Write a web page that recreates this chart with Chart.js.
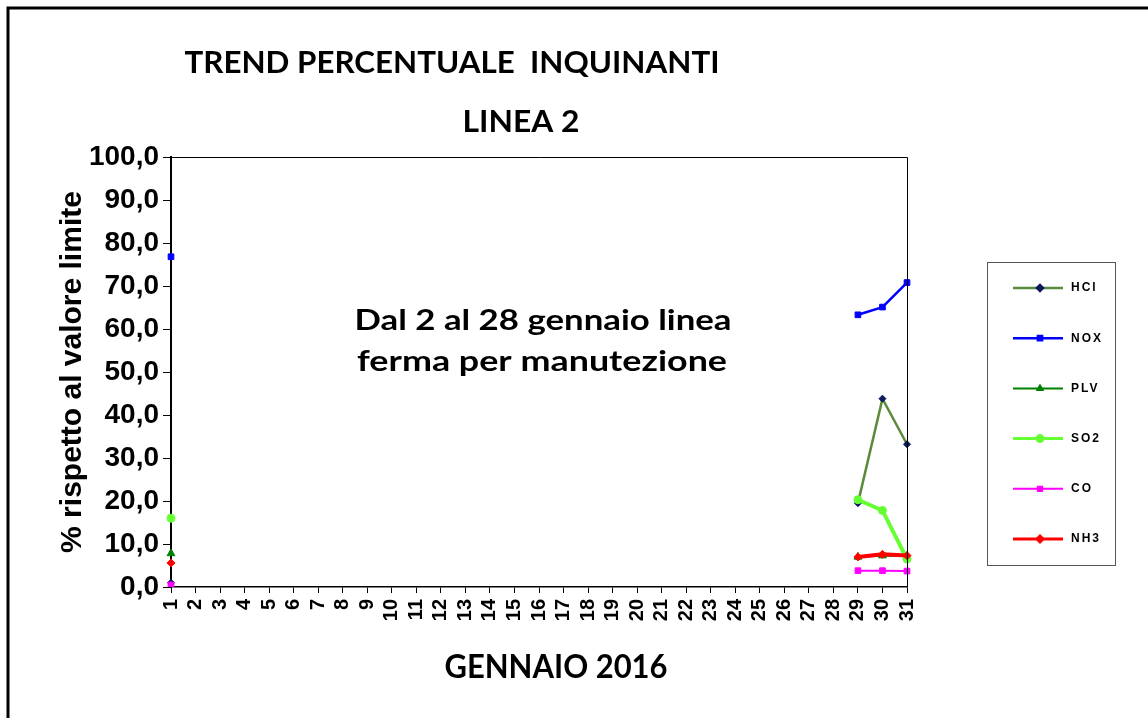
<!DOCTYPE html>
<html>
<head>
<meta charset="utf-8">
<script src="https://cdn.jsdelivr.net/npm/chart.js@4.4.1/dist/chart.umd.min.js"></script>
<style>
  html, body { margin: 0; padding: 0; background: #fff; }
  canvas { display: block; }
</style>
</head>
<body>
<canvas id="chart" width="1148" height="718"></canvas>
<script>
// giorni di gennaio
var days = ['1','2','3','4','5','6','7','8','9','10','11','12','13','14','15','16',
            '17','18','19','20','21','22','23','24','25','26','27','28','29','30','31'];
var yTicks = [0, 10, 20, 30, 40, 50, 60, 70, 80, 90, 100];

// dal 2 al 28 linea ferma -> nessun dato
var stop = new Array(27).fill(null);

var hcl = [1.0].concat(stop, [19.5, 43.8, 33.2]);
var nox = [76.8].concat(stop, [63.3, 65.1, 70.8]);
var plv = [7.8].concat(stop, [7.0, 7.3, 7.2]);
var so2 = [16.0].concat(stop, [20.3, 17.8, 6.5]);
var co  = [0.5].concat(stop, [3.8, 3.8, 3.7]);
var nh3 = [5.6].concat(stop, [7.0, 7.6, 7.3]);

var names = ['HCl', 'NOX', 'PLV', 'SO2', 'CO', 'NH3'];

function fitText(ctx, text, cx, base, w, size) {
    ctx.save();
    ctx.font = 'bold ' + size + 'px Lato';
    var m = ctx.measureText(text).width;
    ctx.translate(cx, base);
    ctx.scale(w / m, 1);
    ctx.textAlign = 'center';
    ctx.textBaseline = 'alphabetic';
    ctx.fillStyle = '#000';
    ctx.fillText(text, 0, 0);
    ctx.restore();
}

var decor = {
    id: 'decor',
    beforeDraw: function (chart) {
        var ctx = chart.ctx;
        ctx.save();
        ctx.fillStyle = '#fff';
        ctx.fillRect(0, 0, chart.width, chart.height);
        ctx.restore();
    },
    afterDraw: function (chart) {
        var ctx = chart.ctx, a = chart.chartArea;
        ctx.save();
        // cornice esterna
        ctx.strokeStyle = '#000';
        ctx.lineWidth = 3;
        ctx.beginPath();
        ctx.moveTo(8, 718);
        ctx.lineTo(8, 8);
        ctx.lineTo(1148, 8);
        ctx.stroke();
        // bordo area grafico (alto e destra)
        ctx.lineWidth = 1;
        ctx.beginPath();
        ctx.moveTo(a.left, a.top + 0.5);
        ctx.lineTo(a.right + 0.5, a.top + 0.5);
        ctx.lineTo(a.right + 0.5, a.bottom);
        ctx.stroke();
        ctx.restore();

        fitText(ctx, 'TREND PERCENTUALE  INQUINANTI', 452, 73, 535, 31);
        fitText(ctx, 'LINEA 2', 521, 132, 117, 31);
        fitText(ctx, 'Dal 2 al 28 gennaio linea', 543, 330, 377, 28);
        fitText(ctx, 'ferma per manutezione', 542, 371, 370, 28);
        fitText(ctx, 'GENNAIO 2016', 556, 678, 223, 32);

        // legenda
        ctx.save();
        ctx.strokeStyle = '#555';
        ctx.lineWidth = 1;
        ctx.strokeRect(987.5, 262.5, 128, 303);
        chart.data.datasets.forEach(function (ds, i) {
            var y = 288 + i * 50.2;
            ctx.strokeStyle = ds.borderColor;
            ctx.lineWidth = Math.min(ds.borderWidth, 3);
            ctx.beginPath();
            ctx.moveTo(1013, y);
            ctx.lineTo(1063, y);
            ctx.stroke();
            ctx.fillStyle = ds.pointBackgroundColor;
            ctx.strokeStyle = ds.pointBorderColor;
            Chart.helpers.drawPoint(ctx, {
                pointStyle: ds.pointStyle, radius: 3, rotation: 0, borderWidth: 1
            }, 1040, y);
            ctx.fillStyle = '#000';
            ctx.font = 'bold 12px "Liberation Sans"';
            ctx.letterSpacing = '2px';
            ctx.textAlign = 'left';
            ctx.textBaseline = 'middle';
            ctx.fillText(ds.label, 1071, y);
        });
        ctx.restore();
    }
};

function serie(i, data, color, mark, style, width, radius) {
    return {
        label: names[i],
        data: data,
        borderColor: color,
        borderWidth: width,
        pointStyle: style,
        pointRadius: radius,
        pointBackgroundColor: mark,
        pointBorderColor: mark,
        pointBorderWidth: 1,
        spanGaps: false,
        tension: 0,
        order: 6 - i
    };
}

var ctx = document.getElementById('chart').getContext('2d');
var myChart = new Chart(ctx, {
    type: 'line',
    data: {
        labels: days,
        datasets: [
            serie(0, hcl, '#5a8a3a', '#0a1a5c', 'rectRot', 2.5, 3.5),
            serie(1, nox, '#0000ff', '#0000ff', 'rect', 2.5, 4),
            serie(2, plv, '#008000', '#008000', 'triangle', 2, 4.5),
            serie(3, so2, '#66ff33', '#66ff33', 'circle', 4, 4),
            serie(4, co, '#ff00ff', '#ff00ff', 'rect', 2, 4),
            serie(5, nh3, '#ff0000', '#ff0000', 'rectRot', 4, 4)
        ]
    },
    options: {
        responsive: false,
        animation: false,
        layout: { padding: { left: 0, top: 157, right: 241, bottom: 0 } },
        plugins: {
            legend: { display: false },
            tooltip: { enabled: false }
        },
        scales: {
            x: {
                type: 'category',
                offset: false,
                afterFit: function (s) { s.height = 131; },
                border: { display: true, color: '#000', width: 1.5 },
                grid: { drawOnChartArea: false, drawTicks: true, tickLength: 6, color: '#000' },
                ticks: {
                    autoSkip: false, maxRotation: 90, minRotation: 90, padding: 6,
                    color: '#000', font: { family: 'Liberation Sans', weight: 'bold', size: 20 }
                }
            },
            y: {
                min: yTicks[0],
                max: yTicks[yTicks.length - 1],
                afterFit: function (s) { s.width = 171; },
                afterBuildTicks: function (s) { s.ticks = yTicks.map(function (v) { return { value: v }; }); },
                border: { display: true, color: '#000', width: 2 },
                grid: { drawOnChartArea: false, drawTicks: true, tickLength: 8, color: '#000' },
                ticks: {
                    padding: 4, color: '#000',
                    font: { family: 'Liberation Sans', weight: 'bold', size: 28 },
                    callback: function (v) { return v.toFixed(1).replace('.', ','); }
                },
                title: {
                    display: true,
                    text: '% rispetto al valore limite',
                    color: '#000',
                    font: { family: 'Liberation Sans', weight: 'bold', size: 30 },
                    padding: { top: 55, bottom: 0 }
                }
            }
        }
    },
    plugins: [decor]
});
</script>
</body>
</html>
